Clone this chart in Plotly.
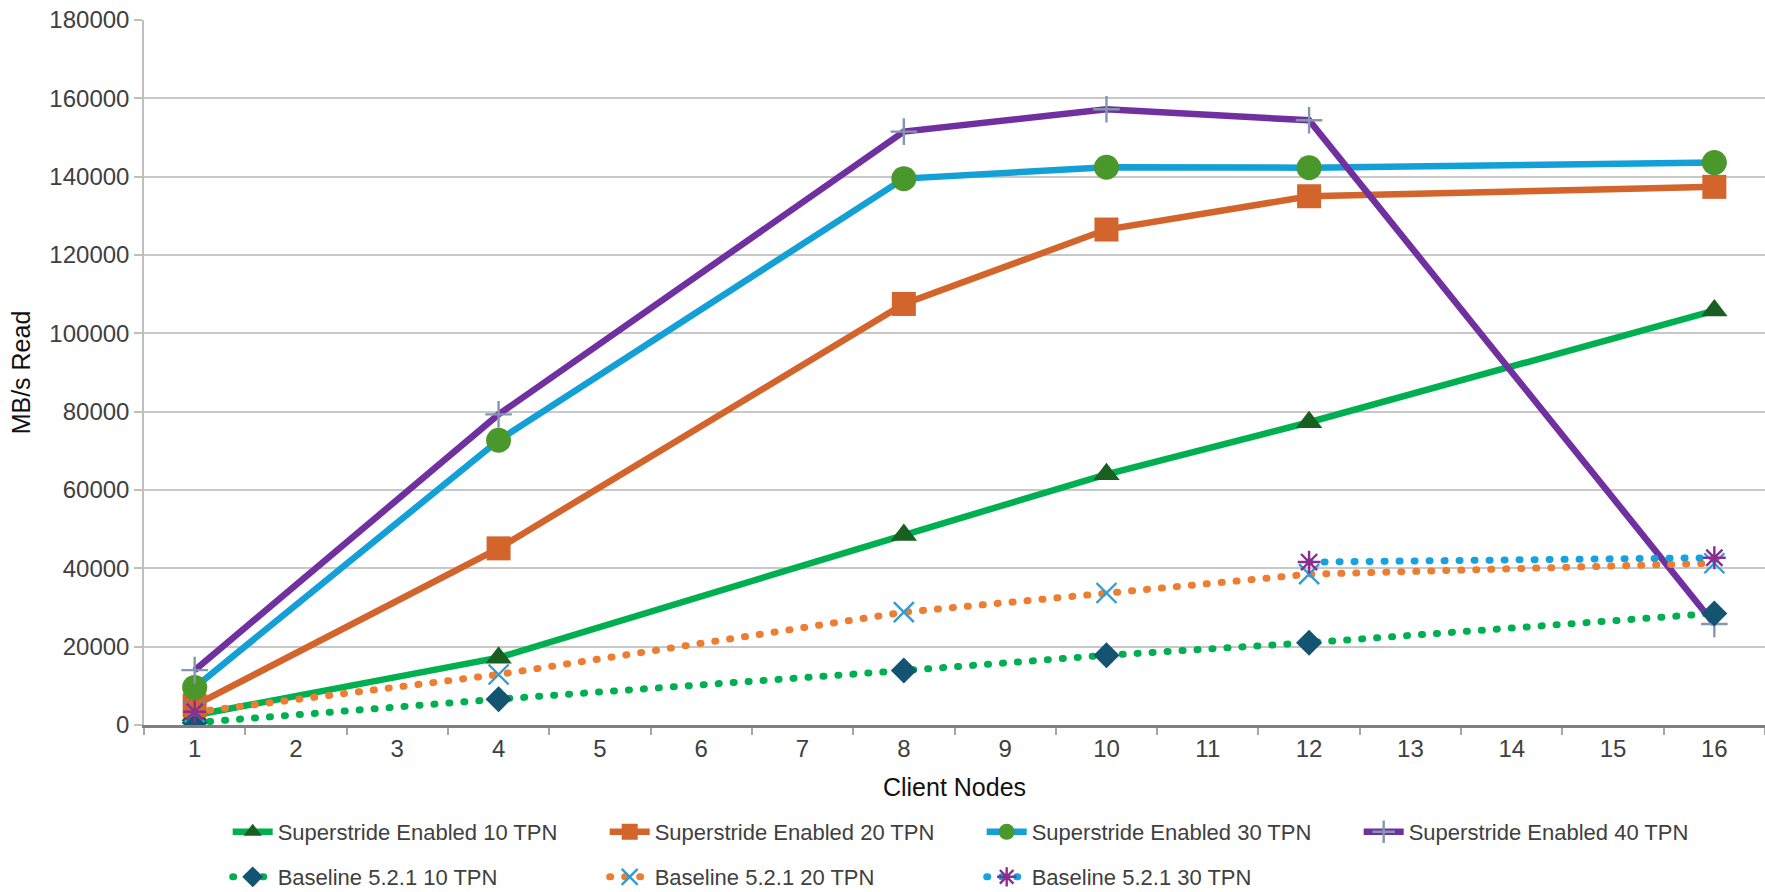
import plotly.graph_objects as go

# Client node counts that were measured, and the full category axis 1..16
node_counts = ["1", "4", "8", "10", "12", "16"]
axis_categories = [str(n) for n in range(1, 17)]

# MB/s read throughput per configuration
superstride_10tpn = [2500, 17200, 48500, 64000, 77300, 105800]
superstride_20tpn = [5000, 45100, 107500, 126500, 135000, 137400]
superstride_30tpn = [9600, 72700, 139500, 142400, 142300, 143600]
superstride_40tpn = [14000, 79300, 151500, 157200, 154400, 25800]
baseline_10tpn = [600, 6600, 13900, 17800, 21000, 28500]
baseline_20tpn = [3300, 12900, 28800, 33700, 38500, 41300]
baseline_30tpn = [3400, None, None, None, 41600, 42700]

y_ticks = list(range(0, 180001, 20000))

series = [
    dict(name="Superstride Enabled 10 TPN", y=superstride_10tpn, color="#00b050",
         dash="solid", symbol="triangle-up", msize=23, mcolor="#195f1f", legend="legend"),
    dict(name="Superstride Enabled 20 TPN", y=superstride_20tpn, color="#d2642c",
         dash="solid", symbol="square", msize=24, mcolor="#d2642c", legend="legend"),
    dict(name="Superstride Enabled 30 TPN", y=superstride_30tpn, color="#12a0d7",
         dash="solid", symbol="circle", msize=25, mcolor="#4a982b", legend="legend"),
    dict(name="Superstride Enabled 40 TPN", y=superstride_40tpn, color="#7030a0",
         dash="solid", symbol="cross-thin", msize=19, mcolor="#8497b0", legend="legend"),
    dict(name="Baseline 5.2.1 10 TPN", y=baseline_10tpn, color="#00b050",
         dash="1px,14px", symbol="diamond", msize=20, mcolor="#135472", legend="legend2"),
    dict(name="Baseline 5.2.1 20 TPN", y=baseline_20tpn, color="#ed7d31",
         dash="1px,14px", symbol="x-thin", msize=20, mcolor="#2f9dd6", legend="legend2"),
    dict(name="Baseline 5.2.1 30 TPN", y=baseline_30tpn, color="#16a2df",
         dash="1px,14px", symbol="asterisk", msize=19, mcolor="#8c2d8c", legend="legend2"),
]

fig = go.Figure()
for s in series:
    thin = s["symbol"] in ("cross-thin", "x-thin", "asterisk")
    marker = dict(symbol=s["symbol"], size=s["msize"], color=s["mcolor"])
    if thin:
        marker["line"] = dict(color=s["mcolor"], width=2.4)
    else:
        marker["line"] = dict(width=0)
    fig.add_trace(go.Scatter(
        x=node_counts, y=s["y"], name=s["name"], mode="lines+markers",
        line=dict(color=s["color"], width=6.5 if s["dash"] == "solid" else 7,
                  dash=s["dash"]),
        marker=marker, connectgaps=False, legend=s["legend"],
    ))

legend_common = dict(
    orientation="h", xref="container", yref="container",
    xanchor="left", yanchor="middle", x=0.129,
    entrywidth=322, entrywidthmode="pixels",
    font=dict(family="Liberation Sans, Arial, sans-serif", size=22, color="#404040"),
    bgcolor="rgba(0,0,0,0)", itemwidth=40, traceorder="normal",
)

fig.update_layout(
    width=1765, height=892,
    margin=dict(l=144, r=0, t=20, b=167),
    paper_bgcolor="white", plot_bgcolor="white",
    font=dict(family="Liberation Sans, Arial, sans-serif", color="#404040"),
    legend=dict(legend_common, y=1 - 832 / 892),
    legend2=dict(legend_common, y=1 - 877 / 892),
    showlegend=True,
)

fig.update_xaxes(
    type="category", categoryorder="array", categoryarray=axis_categories,
    range=[-0.5, 15.5], tickson="boundaries", ticks="outside", ticklen=7,
    tickcolor="#a6a6a6", tickwidth=1.5,
    showline=True, linecolor="#7f7f7f", linewidth=2.5,
    showgrid=False, zeroline=False,
    tickfont=dict(size=24, color="#404040"),
    title=dict(text="Client Nodes", font=dict(size=25, color="#111111"), standoff=18),
)

fig.update_yaxes(
    range=[0, 180000], tickvals=y_ticks, tickformat="d",
    ticks="outside", ticklen=8, tickcolor="#bfbfbf", tickwidth=1.5,
    showline=True, linecolor="#bfbfbf", linewidth=1.5,
    showgrid=True, gridcolor="#c8c8c8", gridwidth=1.5, zeroline=False,
    tickfont=dict(size=24, color="#404040"),
    title=dict(text="MB/s Read", font=dict(size=25, color="#111111"), standoff=12),
)

# Round caps turn the short dashes of the baseline series into dots
round_dots = """
document.querySelectorAll('path').forEach(function(p){
  if (p.style.strokeDasharray && p.style.strokeDasharray !== 'none') {
    p.style.strokeLinecap = 'round';
  }
});
"""

fig.write_html("out.html", post_script=round_dots)
